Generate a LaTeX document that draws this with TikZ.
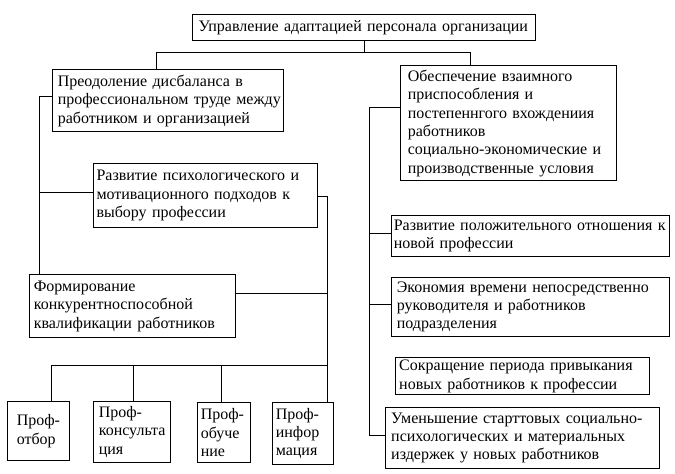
\documentclass[tikz,border=0pt]{standalone}
\usepackage{fontspec}
\setmainfont{Liberation Serif}
\begin{document}
\begin{tikzpicture}[x=1pt,y=-1pt,
  box/.style={draw, line width=1pt, anchor=north west, align=left, inner ysep=0pt,
    font=\fontsize{16}{18.4}\selectfont, execute at begin node={\hyphenpenalty=10000 }},
  conn/.style={line width=1pt}]
\useasboundingbox (0,0) rectangle (675,474);
% boxes
\node[box, inner xsep=6pt, text width=331pt, minimum height=26pt] (top) at (192,14) {Управление адаптацией персонала организации};
\node[box, inner xsep=5pt, text width=220.4pt, minimum height=62pt] (L1) at (52.3,69.3) {Преодоление дисбаланса в\\профессиональном~труде~между\\работником и организацией};
\node[box, inner xsep=7pt, text width=201.4pt, minimum height=115pt] (R1) at (400.3,65.3) {Обеспечение взаимного\\приспособления и\\постепеннгого вхождениия\\работников\\социально-экономические и\\производственные условия};
\node[box, inner xsep=3pt, text width=218.3pt, minimum height=64pt] (L2) at (93,163.3) {Развитие психологического и\\мотивационного подходов к\\выбору профессии};
\node[box, inner xsep=4pt, text width=197.4pt, minimum height=63pt] (L3) at (29.3,274.3) {Формирование\\конкурентноспособной\\квалификации работников};
\node[box, inner xsep=2pt, text width=273.4pt, minimum height=41pt] (R2) at (391.3,215) {Развитие положительного отношения к\\новой профессии};
\node[box, inner xsep=5pt, text width=267.4pt, minimum height=58.4pt] (R3) at (391.3,277.3) {Экономия времени непосредственно\\руководителя и работников\\подразделения};
\node[box, inner xsep=4pt, text width=246.3pt, minimum height=37pt] (R4) at (394.7,357.3) {Сокращение периода привыкания\\новых работников к профессии};
\node[box, inner xsep=6pt, text width=262.3pt, minimum height=61.6pt] (R5) at (384.7,406.7) {Уменьшение старттовых социально-\\психологических и материальных\\издержек у новых работников};
\node[box, inner xsep=9pt, text width=44pt, minimum height=59pt] (B1) at (7.3,401) {Проф-\\отбор};
\node[box, inner xsep=5pt, text width=67pt, minimum height=60.7pt] (B2) at (93.3,401) {Проф-\\консульта\\ция};
\node[box, inner xsep=3pt, text width=46.7pt, minimum height=60.3pt] (B3) at (197.3,402) {Проф-\\обуче\\ние};
\node[box, inner xsep=3pt, text width=55pt, minimum height=61.4pt] (B4) at (272.3,402.3) {Проф-\\инфор\\мация};
% junction coordinates
\coordinate (hL) at (156.3,52.3);
\coordinate (hR) at (470.3,52.3);
\coordinate (ltA) at (39,96.3);
\coordinate (ltB) at (39,192.3);
\coordinate (mtA) at (327.3,196.7);
\coordinate (mtB) at (327.3,293.3);
\coordinate (mtC) at (327.3,365.7);
\coordinate (bh1) at (51.7,365.7);
\coordinate (bh2) at (133.3,365.7);
\coordinate (bh3) at (221.3,365.7);
\coordinate (rtA) at (369.7,107.3);
\coordinate (rtB) at (369.7,233.3);
\coordinate (rtC) at (369.7,304);
\coordinate (rtD) at (369.7,435);
% connectors
\draw[conn] (top.south) -- (top.south |- hL);
\draw[conn] (L1.north -| hL) -- (hL) -- (hR) -- (R1.north -| hR);
\draw[conn] (L1.west |- ltA) -- (ltA) -- (L3.north -| ltA);
\draw[conn] (ltB) -- (L2.west |- ltB);
\draw[conn] (L2.east |- mtA) -- (mtA) -- (mtC) -- (bh1) -- (B1.north -| bh1);
\draw[conn] (L3.east |- mtB) -- (mtB);
\draw[conn] (bh2) -- (B2.north -| bh2);
\draw[conn] (bh3) -- (B3.north -| bh3);
\draw[conn] (mtC) -- (B4.north -| mtC);
\draw[conn] (R1.west |- rtA) -- (rtA) -- (rtD) -- (R5.west |- rtD);
\draw[conn] (rtB) -- (R2.west |- rtB);
\draw[conn] (rtC) -- (R3.west |- rtC);
\end{tikzpicture}
\end{document}
